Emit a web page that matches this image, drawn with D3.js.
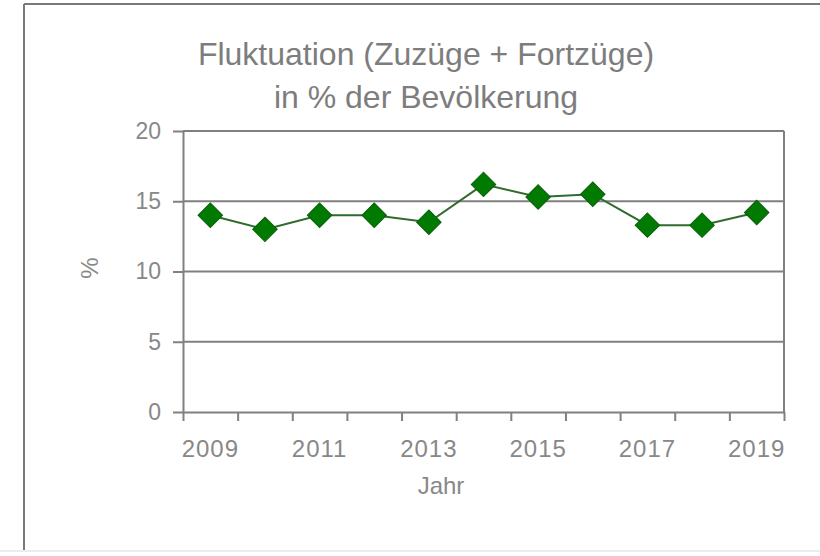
<!DOCTYPE html>
<html>
<head>
<meta charset="utf-8">
<script src="https://cdn.jsdelivr.net/npm/d3@7"></script>
<style>
  body { margin: 0; background: #fff; }
  svg { display: block; font-family: "Liberation Sans", Arial, sans-serif; }
  .axis path, .axis line { stroke: #808080; stroke-width: 2; }
  .axis text { fill: #888888; font-size: 23px; font-family: "Liberation Sans", Arial, sans-serif; }
</style>
</head>
<body>
<svg width="820" height="556"></svg>
<script>
// data
var years = [2009, 2010, 2011, 2012, 2013, 2014, 2015, 2016, 2017, 2018, 2019];
var values = [14.0, 13.0, 14.0, 14.0, 13.5, 16.2, 15.3, 15.5, 13.3, 13.3, 14.2];
var yTicks = [0, 5, 10, 15, 20];
var xLabels = [2009, 2011, 2013, 2015, 2017, 2019];
var titleLines = ["Fluktuation (Zuzüge + Fortzüge)", "in % der Bevölkerung"];

var svg = d3.select("svg");
var plot = {left: 183, right: 784, top: 131, bottom: 412};

// outer frame
svg.append("line").attr("x1", 24).attr("x2", 820).attr("y1", 4).attr("y2", 4)
  .attr("stroke", "#7a7a7a").attr("stroke-width", 2);
svg.append("line").attr("x1", 24).attr("x2", 24).attr("y1", 4).attr("y2", 552)
  .attr("stroke", "#7a7a7a").attr("stroke-width", 2);
svg.append("line").attr("x1", 0).attr("x2", 820).attr("y1", 551).attr("y2", 551)
  .attr("stroke", "#ececec").attr("stroke-width", 2);

var x = d3.scaleBand().domain(years).range([plot.left, plot.right]).padding(0);
var xEdge = d3.scaleLinear().domain([0, years.length]).range([plot.left, plot.right]);
var y = d3.scaleLinear().domain([0, 20]).range([plot.bottom, plot.top]);

// gridlines
svg.append("g")
  .selectAll("line")
  .data(yTicks.filter(function(d) { return d > 0; }))
  .enter().append("line")
    .attr("x1", plot.left).attr("x2", plot.right)
    .attr("y1", function(d) { return y(d); })
    .attr("y2", function(d) { return y(d); })
    .attr("stroke", "#808080").attr("stroke-width", 2);

// right border of plot area
svg.append("line")
  .attr("x1", plot.right).attr("x2", plot.right)
  .attr("y1", plot.top).attr("y2", plot.bottom)
  .attr("stroke", "#808080").attr("stroke-width", 2);

// y axis
svg.append("g")
  .attr("class", "axis")
  .attr("transform", "translate(" + plot.left + ",0)")
  .call(d3.axisLeft(y).tickValues(yTicks).tickSize(10).tickPadding(12).tickSizeOuter(0));

// x axis ticks between categories
svg.append("g")
  .attr("class", "axis")
  .attr("transform", "translate(0," + plot.bottom + ")")
  .call(d3.axisBottom(xEdge).tickValues(d3.range(years.length + 1)).tickFormat("").tickSize(9).tickSizeOuter(0));

// x labels, every other year
var xl = svg.append("g")
  .attr("class", "axis")
  .attr("transform", "translate(0," + plot.bottom + ")")
  .call(d3.axisBottom(x).tickValues(xLabels).tickSize(0).tickPadding(28));
xl.select(".domain").remove();
xl.selectAll("text").style("font-size", "24px").style("letter-spacing", "1px");

// line and markers
var line = d3.line()
  .x(function(d, i) { return x(years[i]) + x.bandwidth() / 2; })
  .y(function(d) { return y(d); });

svg.append("path")
  .datum(values)
  .attr("d", line)
  .attr("fill", "none")
  .attr("stroke", "#2f6a2f")
  .attr("stroke-width", 2);

svg.selectAll(".pt")
  .data(values)
  .enter().append("path")
    .attr("class", "pt")
    .attr("d", d3.symbol().type(d3.symbolSquare).size(300))
    .attr("transform", function(d, i) {
      return "translate(" + (x(years[i]) + x.bandwidth() / 2) + "," + y(d) + ") rotate(45)";
    })
    .attr("fill", "#007a00")
    .attr("stroke", "#0a5f0a")
    .attr("stroke-width", 1);

// title
svg.append("g")
  .selectAll("text")
  .data(titleLines)
  .enter().append("text")
    .attr("x", 426)
    .attr("y", function(d, i) { return 65 + i * 43; })
    .attr("text-anchor", "middle")
    .attr("fill", "#7d7d7d")
    .style("font-size", "32px")
    .text(function(d) { return d; });

// axis titles
svg.append("text")
  .attr("transform", "translate(98,268) rotate(-90)")
  .attr("text-anchor", "middle")
  .attr("fill", "#888888")
  .style("font-size", "24px")
  .text("%");

svg.append("text")
  .attr("x", 441)
  .attr("y", 494)
  .attr("text-anchor", "middle")
  .attr("fill", "#888888")
  .style("font-size", "24px")
  .text("Jahr");
</script>
</body>
</html>
